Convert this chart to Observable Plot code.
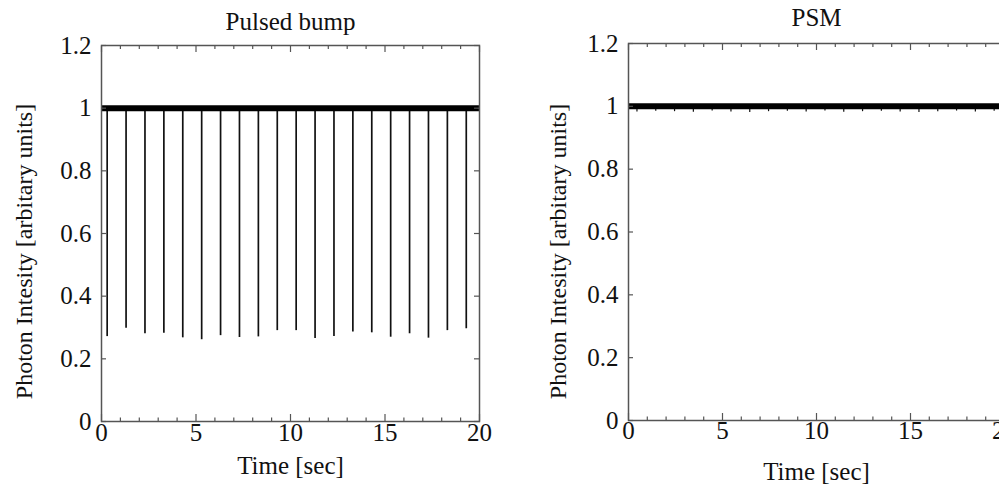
<!DOCTYPE html>
<html><head><meta charset="utf-8">
<script src="https://cdn.jsdelivr.net/npm/d3@7"></script>
<script src="https://cdn.jsdelivr.net/npm/@observablehq/plot@0.6"></script>
<style>
html,body{margin:0;padding:0;background:#fff;}
#wrap{position:relative;width:999px;height:488px;overflow:hidden;background:#fff;}
#left{position:absolute;left:0;top:0;width:500px;height:488px;}
#right{position:absolute;left:500px;top:0;width:530px;height:488px;}
#wrap svg{max-width:none !important;height:488px !important;display:block;}
</style></head><body>
<div id="wrap"><div id="left"></div><div id="right"></div></div>
<script>
const titles = ["Pulsed bump", "PSM"];
const xLabel = "Time [sec]";
const yLabel = "Photon Intesity [arbitary units]";
const xMajorTicks = [0, 5, 10, 15, 20];
const xMinorTicks = [1, 2, 3, 4, 6, 7, 8, 9, 11, 12, 13, 14, 16, 17, 18, 19];
const yTicks = [0, 0.2, 0.4, 0.6, 0.8, 1, 1.2];
const xDomain = [0, 20];
const yDomain = [0, 1.2];
const baseline = [1.0];

// Pulsed bump: dips once per second
const pulseTimes = [0.3, 1.3, 2.3, 3.3, 4.3, 5.3, 6.3, 7.3, 8.3, 9.3, 10.3, 11.3, 12.3, 13.3, 14.3, 15.3, 16.3, 17.3, 18.3, 19.3];
const pulseMin = [0.271, 0.298, 0.280, 0.282, 0.267, 0.261, 0.274, 0.268, 0.270, 0.290, 0.290, 0.265, 0.271, 0.286, 0.283, 0.269, 0.280, 0.266, 0.290, 0.296];

// PSM: only tiny glitches below the flat level
const psmSpikeTimes = [0.45, 1.45, 2.45, 3.45, 4.45, 5.45, 6.45, 7.45, 8.45, 9.45, 10.45, 11.45, 12.45, 13.45, 14.45, 15.45, 16.45, 17.45, 18.45, 19.45];
const psmSpikeMin = [0.982, 0.984, 0.983, 0.981, 0.985, 0.982, 0.980, 0.983, 0.984, 0.982, 0.985, 0.981, 0.983, 0.984, 0.982, 0.980, 0.983, 0.985, 0.982, 0.984];

const pulses = pulseTimes.map((t, i) => ({t, min: pulseMin[i]}));
const psmSpikes = psmSpikeTimes.map((t, i) => ({t, min: psmSpikeMin[i]}));

const FRAME = "#555";
const TEXT = "#111";
const noText = () => "";
const numText = d => String(d);

function panel(o) {
  return Plot.plot({
    width: o.width, height: 488,
    marginLeft: o.mL, marginRight: o.mR, marginTop: o.mT, marginBottom: o.mB,
    x: {domain: xDomain, axis: null},
    y: {domain: yDomain, axis: null},
    style: {fontFamily: "'Liberation Serif', 'Times New Roman', serif", fontSize: "25px", color: TEXT, background: "#fff", overflow: "visible"},
    marks: [
      Plot.ruleX(o.spikes, {x: "t", y1: "min", y2: baseline[0], stroke: "#111", strokeWidth: o.spikeWidth}),
      Plot.ruleY(baseline, {y: d => d, stroke: "#000", strokeWidth: 6}),
      Plot.axisX(xMajorTicks, {anchor: "bottom", tickSize: -7, tickFormat: noText, label: null, stroke: FRAME, strokeWidth: 1.2}),
      Plot.axisX(xMinorTicks, {anchor: "bottom", tickSize: -3.5, tickFormat: noText, label: null, stroke: FRAME, strokeWidth: 1.2}),
      Plot.axisX(xMajorTicks, {anchor: "top", tickSize: -6, tickFormat: noText, label: null, stroke: FRAME, strokeWidth: 1.2}),
      Plot.axisX(xMinorTicks, {anchor: "top", tickSize: -3, tickFormat: noText, label: null, stroke: FRAME, strokeWidth: 1.2}),
      Plot.axisX(xMajorTicks, {anchor: "bottom", tickSize: 0, tickPadding: o.xPad, tickFormat: numText, label: null, fill: TEXT}),
      Plot.axisY(yTicks, {anchor: "left", tickSize: -5, tickFormat: noText, label: null, stroke: FRAME, strokeWidth: 1.2}),
      Plot.axisY(yTicks, {anchor: "right", tickSize: -6, tickFormat: noText, label: null, stroke: FRAME, strokeWidth: 1.2}),
      Plot.axisY(yTicks, {anchor: "left", tickSize: 0, tickPadding: 10, tickFormat: numText, label: null, fill: TEXT}),
      Plot.frame({stroke: FRAME, strokeWidth: 1.5}),
      Plot.text([o.title], {text: d => d, frameAnchor: "top", textAnchor: "middle", lineAnchor: "bottom", dy: o.titleDy, fill: TEXT}),
      Plot.text([xLabel], {text: d => d, frameAnchor: "bottom", textAnchor: "middle", lineAnchor: "bottom", dy: o.xLabelDy, fill: TEXT}),
      Plot.text([yLabel], {text: d => d, frameAnchor: "left", textAnchor: "middle", rotate: -90, lineAnchor: "bottom", dx: o.yLabelDx, dy: o.yLabelDy, fill: TEXT, fontSize: 24})
    ]
  });
}

document.getElementById("left").append(panel({
  title: titles[0], spikes: pulses, spikeWidth: 1.7,
  width: 500, mL: 101, mR: 21, mT: 45, mB: 67,
  xPad: 2, titleDy: -16, xLabelDy: 52, yLabelDx: -70, yLabelDy: 18
}));
document.getElementById("right").append(panel({
  title: titles[1], spikes: psmSpikes, spikeWidth: 1.2,
  width: 530, mL: 128, mR: 26, mT: 43, mB: 68,
  xPad: 1, titleDy: -18, xLabelDy: 59, yLabelDx: -63, yLabelDy: 19.5
}));
</script>
</body></html>
